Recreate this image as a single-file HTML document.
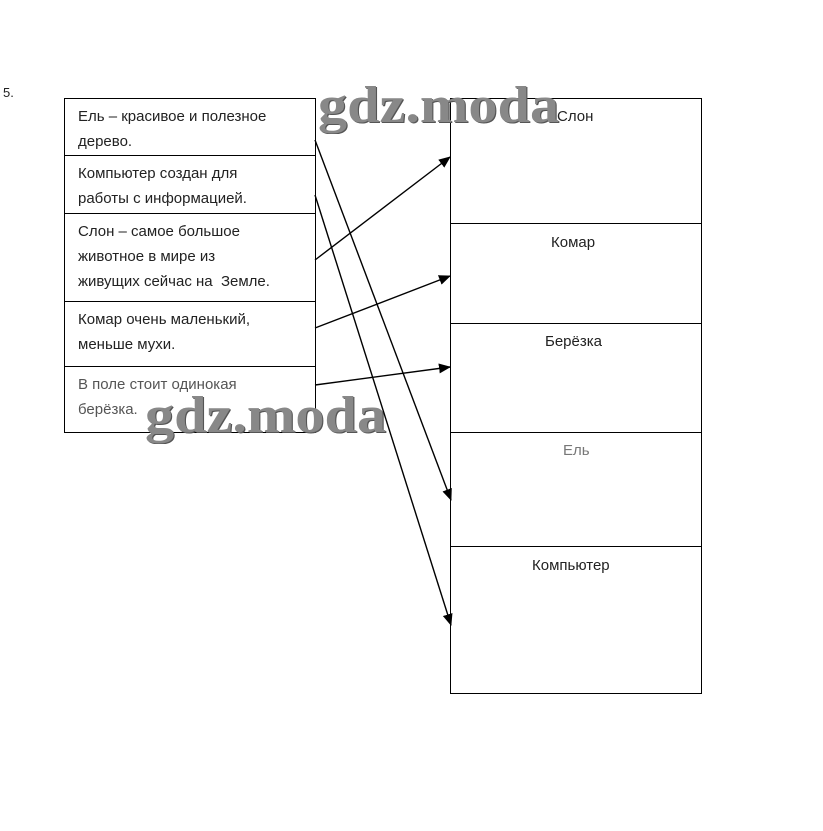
<!DOCTYPE html>
<html><head><meta charset="utf-8"><style>
html,body{margin:0;padding:0;background:#fff;}
body{width:823px;height:831px;position:relative;overflow:hidden;font-family:"Liberation Sans",sans-serif;}
.t{position:absolute;font-size:15px;color:#222;line-height:25px;}
.wm{position:absolute;font-family:"Liberation Serif",serif;font-weight:bold;font-size:52px;color:#888;letter-spacing:0px;text-shadow:1px 1px 0 #555;transform:scaleX(1.12);transform-origin:left top;}
</style></head><body>
<svg width="823" height="831" style="position:absolute;left:0;top:0">
<defs><marker id="a" markerWidth="12" markerHeight="10" refX="11" refY="5" orient="auto" markerUnits="userSpaceOnUse"><path d="M0,0 L12,5 L0,10 z" fill="#000"/></marker></defs>
<g stroke="#000" stroke-width="1" fill="none">
<rect x="64.5" y="98.5" width="251" height="334"/>
<line x1="64" y1="155.5" x2="315" y2="155.5"/>
<line x1="64" y1="213.5" x2="315" y2="213.5"/>
<line x1="64" y1="301.5" x2="315" y2="301.5"/>
<line x1="64" y1="366.5" x2="315" y2="366.5"/>
<rect x="450.5" y="98.5" width="251" height="595"/>
<line x1="450" y1="223.5" x2="701" y2="223.5"/>
<line x1="450" y1="323.5" x2="701" y2="323.5"/>
<line x1="450" y1="432.5" x2="701" y2="432.5"/>
<line x1="450" y1="546.5" x2="701" y2="546.5"/>
<g stroke-width="1.4">
<line x1="315" y1="140" x2="451" y2="500" marker-end="url(#a)"/>
<line x1="315" y1="195" x2="451" y2="625" marker-end="url(#a)"/>
<line x1="315" y1="260" x2="450" y2="157" marker-end="url(#a)"/>
<line x1="315" y1="328" x2="450" y2="276" marker-end="url(#a)"/>
<line x1="315" y1="385" x2="450" y2="367" marker-end="url(#a)"/>
</g></g></svg>
<div class="t" style="left:3px;top:80px;font-size:13px">5.</div>
<div class="t" style="left:78px;top:104px">Ель – красивое и полезное<br>дерево.</div>
<div class="t" style="left:78px;top:161px">Компьютер создан для<br>работы с информацией.</div>
<div class="t" style="left:78px;top:219px">Слон – самое большое<br>животное в мире из<br>живущих сейчас на &nbsp;Земле.</div>
<div class="t" style="left:78px;top:307px">Комар очень маленький,<br>меньше мухи.</div>
<div class="t" style="left:78px;top:372px;color:#555">В поле стоит одинокая<br>берёзка.</div>
<div class="t" style="left:557px;top:104px">Слон</div>
<div class="t" style="left:551px;top:230px">Комар</div>
<div class="t" style="left:545px;top:329px">Берёзка</div>
<div class="t" style="left:563px;top:438px;color:#777">Ель</div>
<div class="t" style="left:532px;top:553px">Компьютер</div>
<div class="wm" style="left:318px;top:76px">gdz.moda</div>
<div class="wm" style="left:145px;top:386px">gdz.moda</div>
</body></html>
